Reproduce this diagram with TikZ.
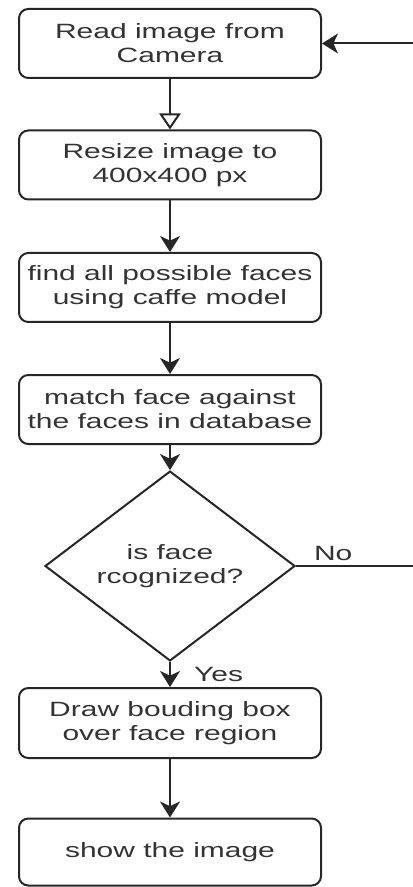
\documentclass[tikz,border=0pt]{standalone}
\usepackage{fontspec}
\setmainfont{Liberation Sans}
\newfontfamily\widefont[FakeStretch=1.45]{Liberation Sans}
\usetikzlibrary{shapes.geometric,arrows.meta}
\begin{document}
\begin{tikzpicture}[x=0.75pt,y=-0.75pt,
  every node/.style={font=\widefont\fontsize{15.5pt}{18pt}\selectfont, text=black!80},
  procbox/.style={draw=black!85, line width=1.5pt, rounded corners=7pt, minimum width=226.5pt, align=center, inner sep=0pt},
  decision/.style={draw=black!85, line width=1.5pt, diamond, inner sep=0pt, minimum width=187.5pt, minimum height=103.5pt, align=center},
  flow/.style={draw=black!85, line width=1.5pt, -{Stealth[length=12pt,width=15pt,inset=3.5pt]}},
  openflow/.style={draw=black!85, line width=1.5pt, -{Triangle[open,length=12pt,width=16pt]}},
  lbl/.style={font=\widefont\fontsize{15.5pt}{18pt}\selectfont}
]
\useasboundingbox (0,0) rectangle (412,887);
\node[procbox, minimum height=51.75pt] (b1) at (170,43.5) {Read image from\\Camera};
\node[procbox, minimum height=51.75pt] (b2) at (170,165) {Resize image to\\400x400 px};
\node[procbox, minimum height=51.75pt] (b3) at (170,287.5) {find all possible faces\\using caffe model};
\node[procbox, minimum height=51.75pt] (b4) at (170,409.5) {match face against\\the faces in database};
\node[decision] (d) at (170,566) {is face\\rcognized?};
\node[procbox, minimum height=52.5pt] (b5) at (170,723) {Draw bouding box\\over face region};
\node[procbox, minimum height=50.25pt] (b6) at (170,852) {show the image};
\coordinate (r1) at (420,566);
\coordinate (r2) at (420,43.5);
\draw[openflow] (b1) -- (b2);
\draw[flow] (b2) -- (b3);
\draw[flow] (b3) -- (b4);
\draw[flow] (b4) -- (d);
\draw[flow] (d) -- node[lbl, right=14pt, pos=0.52] {Yes} (b5);
\draw[flow] (b5) -- (b6);
\draw[flow] (d.east) -- node[lbl, above, pos=0.3] {No} (r1) -- (r2) -- (b1.east);
\end{tikzpicture}
\end{document}
